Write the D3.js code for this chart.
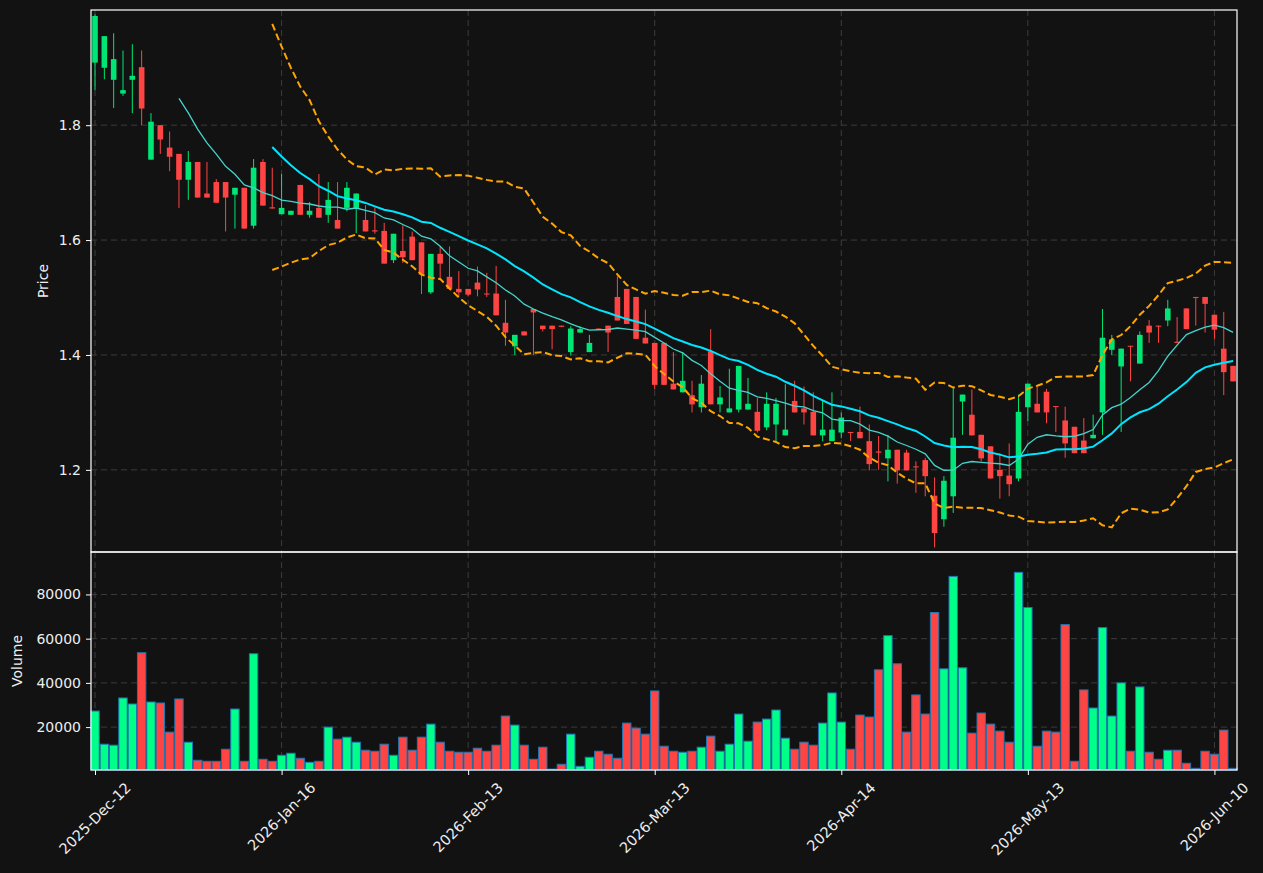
<!DOCTYPE html>
<html>
<head>
<meta charset="utf-8">
<script src="https://cdn.jsdelivr.net/npm/d3@7"></script>
<style>
  html, body { margin: 0; padding: 0; background: #121212; }
  svg { display: block; }
</style>
</head>
<body>
<div id="chart"></div>
<script>
// --- data ---
const opens = [1.909,1.900,1.879,1.855,1.879,1.901,1.740,1.800,1.761,1.750,
  1.705,1.736,1.681,1.701,1.701,1.679,1.691,1.625,1.736,1.657,
  1.645,1.644,1.696,1.644,1.656,1.644,1.635,1.656,1.656,1.635,
  1.617,1.616,1.565,1.581,1.606,1.596,1.509,1.576,1.536,1.515,
  1.515,1.526,1.507,1.507,1.456,1.415,1.441,1.480,1.451,1.451,
  1.451,1.405,1.439,1.405,1.446,1.451,1.501,1.515,1.501,1.430,
  1.421,1.421,1.350,1.335,1.330,1.309,1.406,1.314,1.300,1.305,
  1.305,1.301,1.274,1.279,1.260,1.320,1.307,1.301,1.260,1.250,
  1.265,1.266,1.266,1.250,1.232,1.220,1.235,1.230,1.206,1.217,
  1.155,1.114,1.154,1.319,1.296,1.261,1.241,1.200,1.190,1.185,
  1.309,1.315,1.336,1.311,1.286,1.275,1.251,1.255,1.300,1.409,
  1.380,1.416,1.385,1.451,1.451,1.460,1.423,1.481,1.501,1.501,
  1.470,1.411,1.381];
const highs = [1.993,1.955,1.960,1.930,1.941,1.930,1.821,1.800,1.789,1.750,
  1.755,1.736,1.736,1.706,1.701,1.691,1.691,1.741,1.741,1.726,
  1.715,1.651,1.696,1.666,1.715,1.701,1.701,1.701,1.681,1.661,
  1.657,1.630,1.611,1.626,1.615,1.596,1.576,1.588,1.589,1.546,
  1.515,1.554,1.543,1.555,1.496,1.435,1.441,1.480,1.451,1.451,
  1.451,1.450,1.450,1.435,1.446,1.451,1.537,1.515,1.501,1.479,
  1.421,1.421,1.405,1.405,1.355,1.365,1.445,1.346,1.376,1.381,
  1.360,1.325,1.335,1.325,1.349,1.355,1.345,1.335,1.321,1.335,
  1.300,1.266,1.310,1.279,1.259,1.261,1.235,1.235,1.215,1.221,
  1.187,1.189,1.343,1.331,1.340,1.261,1.241,1.229,1.246,1.331,
  1.350,1.345,1.341,1.311,1.310,1.275,1.290,1.296,1.480,1.435,
  1.411,1.416,1.441,1.461,1.451,1.496,1.466,1.481,1.501,1.501,
  1.470,1.475,1.381];
const lows = [1.861,1.880,1.830,1.851,1.821,1.800,1.740,1.750,1.720,1.656,
  1.670,1.674,1.674,1.665,1.615,1.620,1.620,1.620,1.660,1.655,
  1.645,1.644,1.644,1.639,1.639,1.630,1.620,1.650,1.612,1.615,
  1.611,1.559,1.560,1.560,1.565,1.506,1.506,1.534,1.515,1.502,
  1.502,1.502,1.501,1.469,1.416,1.400,1.434,1.400,1.441,1.410,
  1.449,1.399,1.439,1.405,1.445,1.405,1.460,1.454,1.428,1.420,
  1.340,1.348,1.340,1.335,1.300,1.300,1.314,1.300,1.300,1.300,
  1.305,1.265,1.269,1.250,1.260,1.300,1.279,1.260,1.250,1.250,
  1.255,1.250,1.255,1.199,1.200,1.180,1.176,1.199,1.160,1.154,
  1.065,1.101,1.125,1.261,1.260,1.215,1.185,1.150,1.154,1.180,
  1.285,1.300,1.281,1.266,1.221,1.229,1.229,1.255,1.261,1.400,
  1.266,1.354,1.385,1.421,1.421,1.450,1.421,1.445,1.451,1.439,
  1.427,1.330,1.354];
const closes = [1.990,1.955,1.915,1.861,1.886,1.829,1.806,1.775,1.745,1.705,
  1.736,1.674,1.674,1.665,1.674,1.691,1.620,1.726,1.660,1.655,
  1.656,1.651,1.644,1.651,1.639,1.670,1.620,1.691,1.681,1.615,
  1.615,1.559,1.611,1.570,1.565,1.540,1.576,1.559,1.515,1.509,
  1.505,1.514,1.506,1.469,1.439,1.435,1.434,1.474,1.445,1.445,
  1.449,1.446,1.445,1.421,1.445,1.439,1.460,1.454,1.428,1.420,
  1.348,1.348,1.340,1.355,1.314,1.350,1.314,1.326,1.307,1.381,
  1.315,1.268,1.315,1.315,1.270,1.300,1.300,1.260,1.270,1.270,
  1.291,1.265,1.255,1.210,1.230,1.235,1.199,1.199,1.205,1.189,
  1.090,1.181,1.256,1.331,1.260,1.220,1.185,1.189,1.175,1.301,
  1.350,1.300,1.300,1.310,1.246,1.229,1.229,1.261,1.430,1.427,
  1.411,1.415,1.435,1.439,1.450,1.481,1.421,1.445,1.500,1.489,
  1.444,1.370,1.354];
const volumes = [27270,12270,11820,33180,30450,53640,31360,30910,17730,32730,
  13180,5000,4550,4550,10000,28180,4550,53180,5450,4550,
  7270,8180,5910,4090,4550,20000,14550,15450,13180,9550,
  9090,12270,7270,15450,9550,15450,21360,13180,9090,8640,
  8640,10450,9090,11820,25000,20910,11820,5450,10910,1000,
  3180,16820,2270,6360,9090,7730,5910,21820,19550,16820,
  36360,11360,9090,8640,9090,10910,15910,9090,12270,25910,
  13640,22270,23640,27730,15000,10000,13180,11820,21820,35450,
  22270,10000,25450,24550,45910,61360,48640,17730,34550,25910,
  71820,46360,88180,46820,17270,26360,21360,18180,13180,90000,
  74090,11360,18180,17730,66360,4550,36820,28640,65000,25000,
  40000,9090,38180,8640,5450,9550,9550,3640,1360,9090,
  7730,18640,1360];
const tickIndex = [0, 20, 40, 60, 80, 100, 120];
const tickLabels = ['2025-Dec-12', '2026-Jan-16', '2026-Feb-13', '2026-Mar-13',
  '2026-Apr-14', '2026-May-13', '2026-Jun-10'];
const priceTicks = [1.2, 1.4, 1.6, 1.8];
const volumeTicks = [20000, 40000, 60000, 80000];

// rolling indicators (same as the original chart: mav 10/20, bands 20 x 2 sd)
function rolling(arr, n, fn) {
  return arr.map((_, i) => i < n - 1 ? null : fn(arr.slice(i - n + 1, i + 1)));
}
const ma10 = rolling(closes, 10, w => d3.mean(w));
const ma20 = rolling(closes, 20, w => d3.mean(w));
const sd20 = rolling(closes, 20, w => {
  const m = d3.mean(w);
  return Math.sqrt(d3.mean(w, v => (v - m) * (v - m)));
});
const bandUp = ma20.map((m, i) => m === null ? null : m + 2 * sd20[i]);
const bandLo = ma20.map((m, i) => m === null ? null : m - 2 * sd20[i]);

// --- layout ---
const W = 1263, H = 873;
const left = 91, right = 1237;
const priceTop = 10, priceBottom = 552, volBottom = 770;

const bg = '#121212';
const upColor = '#00e676', downColor = '#ff4444';
const volUp = '#00ff88', volDown = '#ff4444';
const textColor = '#eeeeee';
const gridColor = '#3c3c3c';

const svg = d3.select('#chart').append('svg')
  .attr('width', W).attr('height', H)
  .style('background', bg)
  .style('font-family', '"DejaVu Sans", sans-serif');

const n = closes.length;
const x = d3.scaleLinear().domain([-0.43, n - 1 + 0.42]).range([left, right]);
const step = x(1) - x(0);
const y = d3.scaleLinear().domain([1.057, 2.0005]).range([priceBottom, priceTop]);
const yv = d3.scaleLinear().domain([600, 99200]).range([volBottom, priceBottom]);

// grid
function grid(g, yScale, ticks, top, bottom) {
  g.selectAll('.hg').data(ticks).enter().append('line')
    .attr('x1', left).attr('x2', right)
    .attr('y1', d => yScale(d)).attr('y2', d => yScale(d))
    .attr('stroke', gridColor).attr('stroke-dasharray', '6,4').attr('stroke-width', 1);
  g.selectAll('.vg').data(tickIndex).enter().append('line')
    .attr('x1', d => x(d)).attr('x2', d => x(d))
    .attr('y1', top).attr('y2', bottom)
    .attr('stroke', gridColor).attr('stroke-dasharray', '6,4').attr('stroke-width', 1);
}
grid(svg.append('g'), y, priceTicks, priceTop, priceBottom);
grid(svg.append('g'), yv, volumeTicks, priceBottom, volBottom);

// candles
const candles = svg.append('g');
const idx = d3.range(n);
candles.selectAll('line.wick').data(idx).enter().append('line')
  .attr('x1', i => x(i)).attr('x2', i => x(i))
  .attr('y1', i => y(highs[i])).attr('y2', i => y(lows[i]))
  .attr('stroke', i => closes[i] >= opens[i] ? upColor : downColor)
  .attr('stroke-width', 1);
candles.selectAll('rect').data(idx).enter().append('rect')
  .attr('x', i => x(i) - step * 0.3)
  .attr('width', step * 0.6)
  .attr('y', i => y(Math.max(opens[i], closes[i])))
  .attr('height', i => Math.max(1, Math.abs(y(opens[i]) - y(closes[i]))))
  .attr('fill', i => closes[i] >= opens[i] ? upColor : downColor);

// indicator lines
const lineGen = arr => d3.line()
  .defined(i => arr[i] !== null)
  .x(i => x(i)).y(i => y(arr[i]))(idx);
svg.append('path').attr('d', lineGen(bandUp)).attr('fill', 'none')
  .attr('stroke', '#ffa500').attr('stroke-width', 2).attr('stroke-dasharray', '7,3.5');
svg.append('path').attr('d', lineGen(bandLo)).attr('fill', 'none')
  .attr('stroke', '#ffa500').attr('stroke-width', 2).attr('stroke-dasharray', '7,3.5');
svg.append('path').attr('d', lineGen(ma10)).attr('fill', 'none')
  .attr('stroke', '#44d4cc').attr('stroke-width', 1.3);
svg.append('path').attr('d', lineGen(ma20)).attr('fill', 'none')
  .attr('stroke', '#00e5ff').attr('stroke-width', 2);

// volume
svg.append('g').selectAll('rect').data(idx).enter().append('rect')
  .attr('x', i => x(i) - step * 0.45)
  .attr('width', step * 0.9)
  .attr('y', i => yv(volumes[i]))
  .attr('height', i => volBottom - yv(volumes[i]))
  .attr('fill', i => closes[i] >= opens[i] ? volUp : volDown)
  .attr('stroke', '#1f77b4').attr('stroke-width', 1);

// frames
[[priceTop, priceBottom], [priceBottom, volBottom]].forEach(([t, b]) => {
  svg.append('rect').attr('x', left).attr('y', t)
    .attr('width', right - left).attr('height', b - t)
    .attr('fill', 'none').attr('stroke', '#ffffff').attr('stroke-width', 1.2);
});

// y axes
function yAxis(scale, ticks, fmt) {
  const g = svg.append('g').attr('transform', `translate(${left},0)`)
    .call(d3.axisLeft(scale).tickValues(ticks).tickFormat(fmt).tickSize(5).tickPadding(5));
  g.select('.domain').remove();
  g.selectAll('.tick line').attr('stroke', '#ffffff');
  g.selectAll('.tick text').attr('fill', textColor).style('font-size', '14px')
    .style('font-family', '"DejaVu Sans", sans-serif');
}
yAxis(y, priceTicks, d3.format('.1f'));
yAxis(yv, volumeTicks, d => String(d));

// x axis (bottom of volume panel)
const xg = svg.append('g').attr('transform', `translate(0,${volBottom})`)
  .call(d3.axisBottom(x).tickValues(tickIndex).tickFormat('').tickSize(5));
xg.select('.domain').remove();
xg.selectAll('.tick line').attr('stroke', '#ffffff');

const labels = svg.append('g');
tickIndex.forEach((t, k) => {
  const txt = labels.append('text')
    .attr('fill', textColor).style('font-size', '14.5px')
    .attr('text-anchor', 'middle').attr('dominant-baseline', 'central')
    .text(tickLabels[k]);
  const w = txt.node().getComputedTextLength();
  const cy = volBottom + 10 + (w + 14.5) * Math.SQRT1_2 / 2;
  txt.attr('transform', `translate(${x(t)},${cy}) rotate(-45)`);
});

// axis titles
svg.append('text').attr('transform', `translate(43,${(priceTop + priceBottom) / 2}) rotate(-90)`)
  .attr('text-anchor', 'middle').attr('dominant-baseline', 'central')
  .attr('fill', textColor).style('font-size', '14px').text('Price');
svg.append('text').attr('transform', `translate(17,${(priceBottom + volBottom) / 2}) rotate(-90)`)
  .attr('text-anchor', 'middle').attr('dominant-baseline', 'central')
  .attr('fill', textColor).style('font-size', '14px').text('Volume');
</script>
</body>
</html>
